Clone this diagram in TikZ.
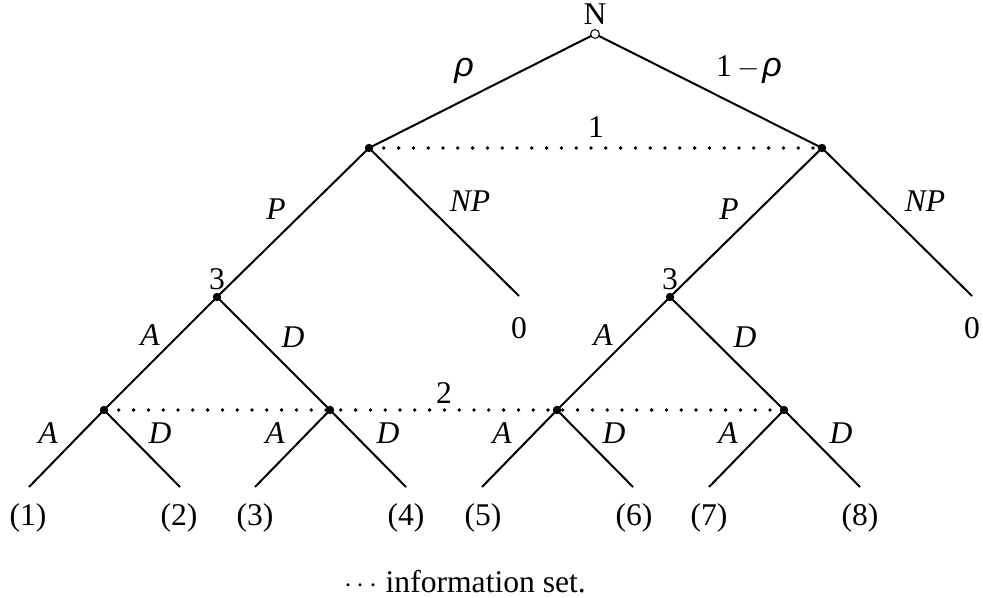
\documentclass[tikz,border=0pt]{standalone}
\usepackage{fontspec}
\setmainfont{Liberation Serif}
\newfontfamily\rhofont{Liberation Sans}
\newcommand{\myrho}{{\rhofont\itshape\fontsize{17}{18}\selectfont ρ}}
\newcommand{\myminus}{{\fontsize{14}{16}\selectfont$-$}}
\begin{document}
\begin{tikzpicture}[x=0.5pt,y=-0.5pt,
  font=\fontsize{15.8}{18}\selectfont,
  branch/.style={line width=1pt},
  dec/.style={circle,fill=black,inner sep=0pt,minimum size=4.2pt},
  chance/.style={circle,draw=black,fill=white,line width=0.5pt,inner sep=0pt,minimum size=4.4pt},
  infoset/.style={line width=1.9pt,line cap=round,dash pattern=on 0pt off 7.4pt},
  lbl/.style={inner sep=0pt}]
\useasboundingbox (0,0) rectangle (983,598);
% information sets (behind)
\coordinate (l1) at (369,148);
\coordinate (r1) at (822,148);
\coordinate (la) at (104,410);
\coordinate (rd) at (784,410);
\draw[infoset] (l1) -- (r1);
\draw[infoset] (la) -- (rd);
% leaves
\coordinate (t1) at (29,487);
\coordinate (t2) at (180,487);
\coordinate (t3) at (255,487);
\coordinate (t4) at (406,487);
\coordinate (t5) at (482,487);
\coordinate (t6) at (633,487);
\coordinate (t7) at (709,487);
\coordinate (t8) at (860,487);
\coordinate (z1) at (519,296);
\coordinate (z2) at (972,296);
% branches
\draw[branch] (595,34) coordinate (root) -- (l1);
\draw[branch] (root) -- (r1);
\coordinate (l3) at (217,297);
\coordinate (r3) at (670,297);
\coordinate (lb) at (330,410);
\coordinate (rc) at (557,410);
\draw[branch] (l1) -- (l3);
\draw[branch] (l1) -- (z1);
\draw[branch] (r1) -- (r3);
\draw[branch] (r1) -- (z2);
\draw[branch] (l3) -- (la);
\draw[branch] (l3) -- (lb);
\draw[branch] (r3) -- (rc);
\draw[branch] (r3) -- (rd);
\draw[branch] (la) -- (t1);
\draw[branch] (la) -- (t2);
\draw[branch] (lb) -- (t3);
\draw[branch] (lb) -- (t4);
\draw[branch] (rc) -- (t5);
\draw[branch] (rc) -- (t6);
\draw[branch] (rd) -- (t7);
\draw[branch] (rd) -- (t8);
% node markers
\node[chance] (nroot) at (root) {};
\node[dec] (nl1) at (l1) {};
\node[dec] (nr1) at (r1) {};
\node[dec] (nl3) at (l3) {};
\node[dec] (nr3) at (r3) {};
\node[dec] (nla) at (la) {};
\node[dec] (nlb) at (lb) {};
\node[dec] (nrc) at (rc) {};
\node[dec] (nrd) at (rd) {};
% player labels
\node[lbl] (pN) at (595,14) {N};
\node[lbl] (p1) at (596,127) {1};
\node[lbl] (p2) at (444,393) {2};
\node[lbl] (p3a) at (217,279) {3};
\node[lbl] (p3b) at (670,279) {3};
% action labels
\node[lbl,anchor=base] (rho) at (464,77) {\myrho};
\node[lbl,anchor=base] (omr) at (749,77) {1\hspace{3pt}\myminus\hspace{1pt}\myrho};
\node[lbl] (aP1) at (276,209) {\textit{P}};
\node[lbl] (aNP1) at (470,201) {\textit{NP}};
\node[lbl] (aP2) at (729,209) {\textit{P}};
\node[lbl] (aNP2) at (925,201) {\textit{NP}};
\node[lbl] (aA1) at (150,335) {\textit{A}};
\node[lbl] (aD1) at (293,337) {\textit{D}};
\node[lbl] (aA2) at (603,335) {\textit{A}};
\node[lbl] (aD2) at (745,337) {\textit{D}};
\node[lbl] (b1) at (48,433) {\textit{A}};
\node[lbl] (b2) at (160,433) {\textit{D}};
\node[lbl] (b3) at (275,433) {\textit{A}};
\node[lbl] (b4) at (388,433) {\textit{D}};
\node[lbl] (b5) at (502,433) {\textit{A}};
\node[lbl] (b6) at (614,433) {\textit{D}};
\node[lbl] (b7) at (728,433) {\textit{A}};
\node[lbl] (b8) at (841,433) {\textit{D}};
% payoffs
\node[lbl] (o1) at (28,518) {(1)};
\node[lbl] (o2) at (179,518) {(2)};
\node[lbl] (o3) at (255,518) {(3)};
\node[lbl] (o4) at (406,518) {(4)};
\node[lbl] (o5) at (483,518) {(5)};
\node[lbl] (o6) at (634,518) {(6)};
\node[lbl] (o7) at (709,518) {(7)};
\node[lbl] (o8) at (860,518) {(8)};
\node[lbl] (o9) at (519,328) {0};
\node[lbl] (o10) at (972,328) {0};
% legend
\node[lbl] (legend) at (465,582) {$\cdots$ information set.};
\end{tikzpicture}
\end{document}
